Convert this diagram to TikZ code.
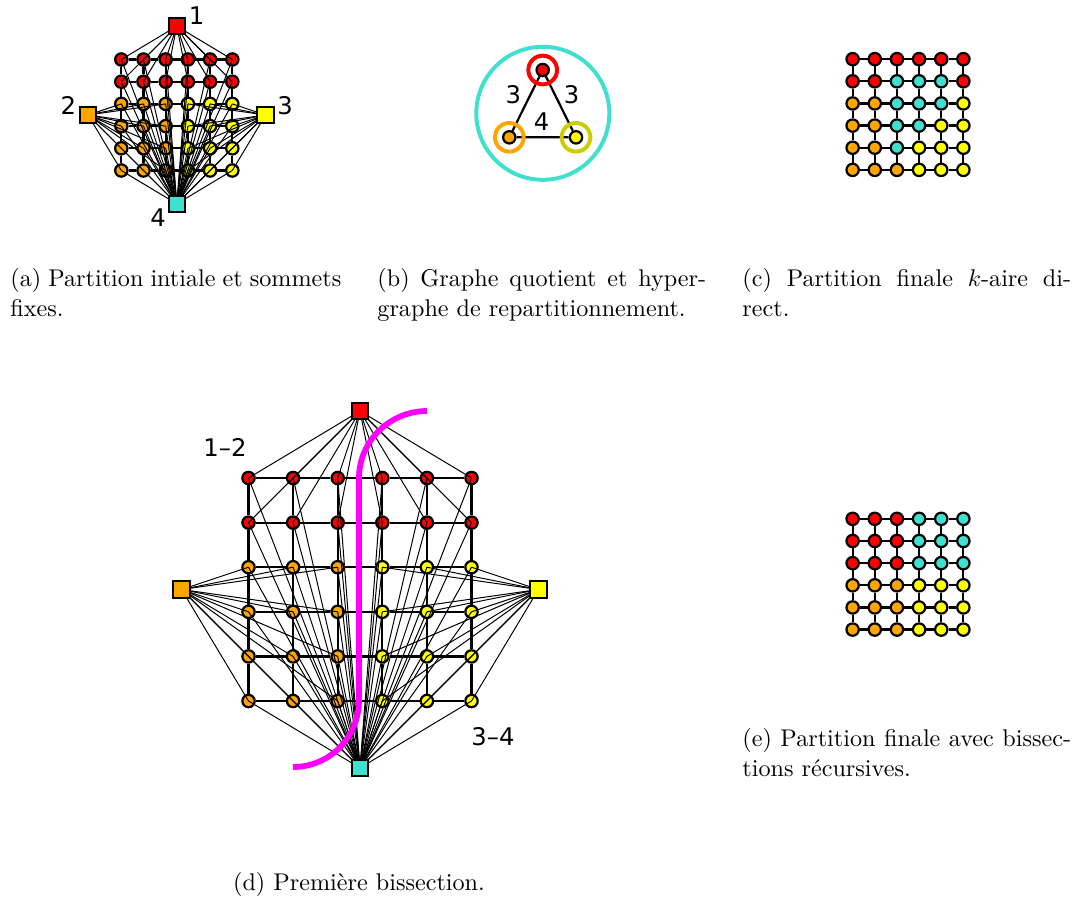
\documentclass[tikz,border=0pt]{standalone}
\usepackage{fontspec}
\newfontfamily\lab{DejaVu Sans}
\definecolor{cR}{RGB}{255,0,0}
\definecolor{cO}{RGB}{255,165,0}
\definecolor{cY}{RGB}{255,255,0}
\definecolor{cC}{RGB}{64,224,208}
\definecolor{cM}{RGB}{255,0,255}
\definecolor{cOl}{RGB}{204,204,0}
\pgfdeclarelayer{bg}\pgfdeclarelayer{fg}\pgfsetlayers{bg,main,fg}
\tikzset{
  vtx/.style={circle,draw=black,line width=1pt,minimum size=5.6pt,inner sep=0pt},
  fixv/.style={rectangle,draw=black,line width=0.9pt,minimum size=7.4pt,inner sep=0pt},
  gridl/.style={line width=1pt},
  hedge/.style={line width=0.45pt},
  lbl/.style={font=\lab\fontsize{11}{13}\selectfont,inner sep=0pt},
  capt/.style={anchor=base west,inner sep=0pt,font=\fontsize{10.95}{13.6}\selectfont},
  ring/.style={circle,line width=1.8pt,minimum size=13pt,inner sep=0pt},
}
% grid edges of a 6x6 grid named <prefix>-r-c
\newcommand\gedges[1]{%
  \begin{pgfonlayer}{bg}
  \foreach \r in {1,...,6}{\foreach \c [evaluate=\c as \n using int(\c+1)] in {1,...,5}{%
    \draw[gridl] (#1-\r-\c) -- (#1-\r-\n);
    \draw[gridl] (#1-\c-\r) -- (#1-\n-\r);}}
  \end{pgfonlayer}}
% hypergraph panel: prefix, cx, cy, spacing
\newcommand\hgpanel[4]{%
  \foreach \r in {1,...,6}{\foreach \c in {1,...,6}{%
    \ifnum\r<3 \def\col{cR}\else\ifnum\c<4 \def\col{cO}\else\def\col{cY}\fi\fi
    \node[vtx,fill=\col] (#1-\r-\c) at ({#2+(\c-3.5)*#4},{#3+(\r-3.5)*#4}) {};}}
  \begin{pgfonlayer}{fg}
    \node[fixv,fill=cR] (#1T) at (#2,{#3-4*#4}) {};
    \node[fixv,fill=cO] (#1L) at ({#2-4*#4},#3) {};
    \node[fixv,fill=cY] (#1R) at ({#2+4*#4},#3) {};
    \node[fixv,fill=cC] (#1B) at (#2,{#3+4*#4}) {};
  \end{pgfonlayer}
  \gedges{#1}
  \foreach \r in {1,...,6}{\foreach \c in {1,...,6}{%
    \ifnum\r<3 \def\fx{#1T}\else\ifnum\c<4 \def\fx{#1L}\else\def\fx{#1R}\fi\fi
    \draw[hedge] (#1-\r-\c.center) -- (\fx.center);
    \draw[hedge] (#1-\r-\c.center) -- (#1B.center);}}}
% coloured grid row: prefix, cx, cy, row, colours
\newcommand\crow[5]{%
  \foreach \k [count=\c] in {#5}{%
    \node[vtx,fill=\k] (#1-#4-\c) at ({#2+(\c-3.5)*22.15},{#3+(#4-3.5)*22.15}) {};}}
\begin{document}
\begin{tikzpicture}[x=0.4533pt,y=-0.4533pt]
\useasboundingbox (0,0) rectangle (1081,900);
% (a)
\hgpanel{a}{176.8}{115}{22.2}
\node[lbl] (la1) at (196.5,16) {1};
\node[lbl] (la2) at (68.3,105.8) {2};
\node[lbl] (la3) at (285,105.8) {3};
\node[lbl] (la4) at (158,218) {4};
% (b)
\node[circle,draw=cC,line width=1.8pt,minimum size=60.3pt,inner sep=0pt] (bC) at (542.8,113.3) {};
\node[vtx,fill=cR] (bR) at (542.7,70) {};
\node[vtx,fill=cO] (bO) at (509.3,137.3) {};
\node[vtx,fill=cY] (bY) at (576,137.3) {};
\begin{pgfonlayer}{bg}
\draw[gridl] (bR) -- (bO) -- (bY) -- (bR);
\end{pgfonlayer}
\node[ring,draw=cR] (bRr) at (bR) {};
\node[ring,draw=cO] (bOr) at (bO) {};
\node[ring,draw=cOl] (bYr) at (bY) {};
\node[lbl] (lb1) at (513.3,95) {3};
\node[lbl] (lb2) at (571.7,95) {3};
\node[lbl] (lb3) at (541.7,121.7) {4};
% (c)
\crow{c}{908}{114.5}{1}{cR,cR,cR,cR,cR,cR}
\crow{c}{908}{114.5}{2}{cR,cR,cC,cC,cC,cR}
\crow{c}{908}{114.5}{3}{cO,cO,cC,cC,cC,cY}
\crow{c}{908}{114.5}{4}{cO,cO,cC,cC,cY,cY}
\crow{c}{908}{114.5}{5}{cO,cO,cC,cY,cY,cY}
\crow{c}{908}{114.5}{6}{cO,cO,cO,cY,cY,cY}
\gedges{c}
% (d)
\hgpanel{d}{360}{589.5}{44.6}
\node[lbl] (ld1) at (225,447) {1–2};
\node[lbl] (ld2) at (493,737) {3–4};
\begin{pgfonlayer}{fg}
\coordinate (m1) at (427,411);
\coordinate (m2) at (359,478);
\coordinate (m3) at (359,700);
\coordinate (m4) at (293,767);
\draw[cM,line width=2.6pt] (m1) .. controls (390,411) and (359,441) .. (m2) -- (m3) .. controls (359,737) and (330,767) .. (m4);
\end{pgfonlayer}
% (e)
\crow{e}{908}{574.2}{1}{cR,cR,cR,cC,cC,cC}
\crow{e}{908}{574.2}{2}{cR,cR,cR,cC,cC,cC}
\crow{e}{908}{574.2}{3}{cR,cR,cR,cC,cC,cC}
\crow{e}{908}{574.2}{4}{cO,cO,cO,cY,cY,cY}
\crow{e}{908}{574.2}{5}{cO,cO,cO,cY,cY,cY}
\crow{e}{908}{574.2}{6}{cO,cO,cO,cY,cY,cY}
\gedges{e}
% captions
\node[capt] (ca1) at (10,286) {\makebox[150pt][s]{(a) Partition intiale et sommets}};
\node[capt] (ca2) at (10,316.7) {fixes.};
\node[capt] (cb1) at (377,286) {\makebox[149pt][s]{(b) Graphe quotient et hyper-}};
\node[capt] (cb2) at (377,316.7) {graphe de repartitionnement.};
\node[capt] (cc1) at (742,286) {\makebox[149pt][s]{(c) Partition finale $k$-aire di-}};
\node[capt] (cc2) at (742,316.7) {rect.};
\node[capt] (ce1) at (742,746.7) {\makebox[149pt][s]{(e) Partition finale avec bissec-}};
\node[capt] (ce2) at (742,776.7) {tions récursives.};
\node[capt,anchor=base] (cd) at (359,890) {(d) Première bissection.};
\end{tikzpicture}
\end{document}
